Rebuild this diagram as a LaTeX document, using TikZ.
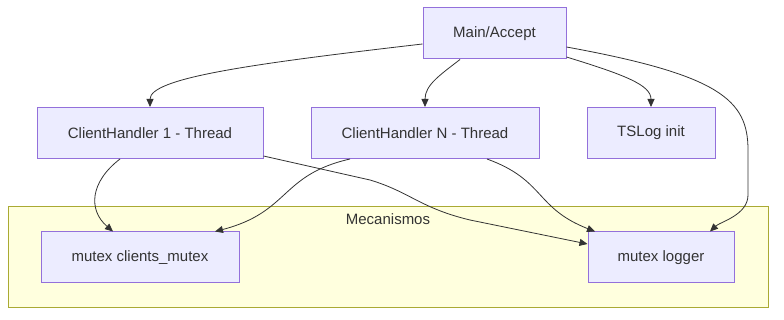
\documentclass[tikz,border=0pt]{standalone}
\usepackage{fontspec}
\setmainfont{Liberation Sans}
\usetikzlibrary{arrows.meta}
\definecolor{boxfill}{HTML}{ECECFF}
\definecolor{boxline}{HTML}{9370DB}
\definecolor{grpfill}{HTML}{FFFFDE}
\definecolor{grpline}{HTML}{AAAA33}
\definecolor{ink}{HTML}{333333}

\begin{document}
\begin{tikzpicture}[x=1pt, y=-1pt, >={Triangle[length=8pt,width=7pt]},
  box/.style={rectangle, draw=boxline, fill=boxfill, line width=1pt, text=ink,
    font=\fontsize{15}{18}\selectfont, minimum height=51pt, inner sep=0pt},
  edge/.style={->, draw=ink, line width=0.8pt}]
\useasboundingbox (0,0) rectangle (784,320);

% group
\draw[draw=grpline, fill=grpfill, line width=1pt] (8,207) rectangle (768,307);
\node (grp) at (388,219) [text=ink, font=\fontsize{15}{18}\selectfont] {Mecanismos};

% nodes
\node (main) at (494.5,33.5) [box, minimum width=143pt] {Main/Accept};
\node (ch1) at (150,133) [box, minimum width=226pt] {ClientHandler 1 - Thread};
\node (chn) at (425,133) [box, minimum width=228pt] {ClientHandler N - Thread};
\node (tslog) at (651,133) [box, minimum width=128pt] {TSLog init};
\node (cmutex) at (140,257.5) [box, minimum width=198pt] {mutex clients\_mutex};
\node (logger) at (661,257.5) [box, minimum width=146pt] {mutex logger};

% edges
\draw[edge] ([yshift=-10.5pt]main.west) .. controls (250,64) and (150,78) .. (ch1.north);
\draw[edge] ([xshift=-34.5pt]main.south) .. controls (440,75) and (425,85) .. (chn.north);
\draw[edge] ([yshift=-23.5pt]main.east) .. controls (625,75) and (651,85) .. (tslog.north);
\draw[edge] ([yshift=-13.5pt]main.east) .. controls (720,75) and (748,100) .. (748,150)
  -- (748,195) .. controls (748,215) and (720,222) .. ([xshift=49pt]logger.north);
\draw[edge] ([xshift=-30pt]ch1.south) .. controls (90,182) and (88,210) .. ([xshift=-27pt]cmutex.north);
\draw[edge] ([yshift=-23pt]ch1.east) -- (370,180) .. controls (410,192) and (420,208) .. (470,220)
  -- ([yshift=13.5pt]logger.west);
\draw[edge] ([xshift=-75pt]chn.south) .. controls (280,175) and (290,212) .. ([xshift=75pt]cmutex.north);
\draw[edge] ([xshift=62pt]chn.south) .. controls (545,180) and (535,208) .. ([xshift=-66pt]logger.north);
\end{tikzpicture}
\end{document}
